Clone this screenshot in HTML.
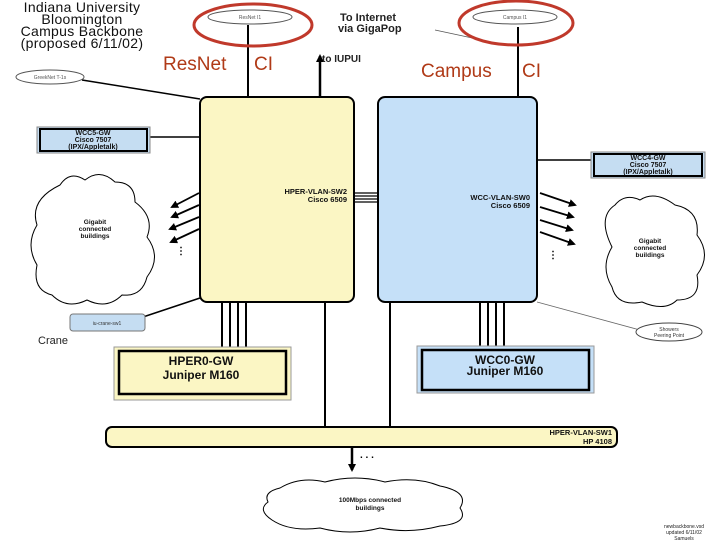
<!DOCTYPE html>
<html><head><style>
body{margin:0;background:#fff;}
svg{display:block;font-family:"Liberation Sans",Arial,sans-serif;}
</style></head><body>
<svg width="720" height="540" viewBox="0 0 720 540">
<defs><marker id="ah" markerWidth="8" markerHeight="8" refX="6" refY="4" orient="auto" markerUnits="userSpaceOnUse"><path d="M0,0 L8,4 L0,8z" fill="#000"/></marker></defs>
<g font-size="14" fill="#111" text-anchor="middle" letter-spacing="0.3">
<text x="82" y="12">Indiana University</text>
<text x="82" y="24">Bloomington</text>
<text x="82" y="36">Campus Backbone</text>
<text x="82" y="48">(proposed 6/11/02)</text>
</g>
<line x1="248" y1="25" x2="248" y2="97" stroke="#000" stroke-width="2"/>
<line x1="518" y1="27" x2="518" y2="97" stroke="#000" stroke-width="2"/>
<line x1="320" y1="97" x2="320" y2="56" stroke="#000" stroke-width="2.5" marker-end="url(#ah)"/>
<line x1="435" y1="30" x2="505" y2="45" stroke="#555" stroke-width="0.8"/>
<text x="340" y="21" font-size="11" font-weight="bold" fill="#222">To Internet</text>
<text x="338" y="32" font-size="11" font-weight="bold" fill="#222">via GigaPop</text>
<text x="322" y="62" font-size="10" font-weight="bold" fill="#222">to IUPUI</text>
<ellipse cx="250" cy="17" rx="42" ry="7" fill="#fff" stroke="#555"/>
<text x="250" y="19" font-size="5" text-anchor="middle" fill="#555">ResNet I1</text>
<ellipse cx="515" cy="17" rx="42" ry="7" fill="#fff" stroke="#555"/>
<text x="515" y="19" font-size="5" text-anchor="middle" fill="#555">Campus I1</text>
<ellipse cx="253" cy="25" rx="59" ry="21" fill="none" stroke="#c0392b" stroke-width="3"/>
<ellipse cx="516" cy="23" rx="57" ry="22" fill="none" stroke="#c0392b" stroke-width="3"/>
<g font-size="19" fill="#b03a17">
<text x="163" y="70">ResNet</text><text x="254" y="70">CI</text>
<text x="421" y="77">Campus</text><text x="522" y="77">CI</text></g>
<line x1="82" y1="80" x2="200" y2="99" stroke="#000" stroke-width="1.5"/>
<ellipse cx="50" cy="77" rx="34" ry="7" fill="#fff" stroke="#555"/>
<text x="50" y="79" font-size="5" text-anchor="middle" fill="#555">GreekNet T-1s</text>
<line x1="150" y1="137" x2="200" y2="137" stroke="#000" stroke-width="1.5"/>
<rect x="37" y="127" width="113" height="26" fill="#c5ddf2" stroke="#888"/>
<rect x="40" y="129" width="107" height="22" fill="#c5ddf2" stroke="#000" stroke-width="2"/>
<g font-size="7" font-weight="bold" text-anchor="middle" fill="#111"><text x="93" y="135">WCC5-GW</text><text x="93" y="142">Cisco 7507</text><text x="93" y="149">(IPX/Appletalk)</text></g>
<line x1="537" y1="160" x2="592" y2="160" stroke="#000" stroke-width="1.5"/>
<rect x="591" y="152" width="114" height="26" fill="#c5ddf2" stroke="#888"/>
<rect x="594" y="154" width="108" height="22" fill="#c5ddf2" stroke="#000" stroke-width="2"/>
<g font-size="7" font-weight="bold" text-anchor="middle" fill="#111"><text x="648" y="160">WCC4-GW</text><text x="648" y="167">Cisco 7507</text><text x="648" y="174">(IPX/Appletalk)</text></g>
<g stroke="#000" stroke-width="1.2"><line x1="354" y1="193" x2="378" y2="193"/><line x1="354" y1="196" x2="378" y2="196"/><line x1="354" y1="199" x2="378" y2="199"/><line x1="354" y1="202" x2="378" y2="202"/></g>
<rect x="200" y="97" width="154" height="205" rx="7" fill="#fbf6c4" stroke="#000" stroke-width="2"/>
<rect x="378" y="97" width="159" height="205" rx="7" fill="#c5e0f8" stroke="#000" stroke-width="2"/>
<g font-size="7.5" font-weight="bold" text-anchor="end" fill="#111">
<text x="347" y="194">HPER-VLAN-SW2</text><text x="347" y="202">Cisco 6509</text>
<text x="530" y="200">WCC-VLAN-SW0</text><text x="530" y="208">Cisco 6509</text></g>
<g stroke="#000" stroke-width="1.8" marker-end="url(#ah)">
<line x1="199" y1="193" x2="172" y2="207"/><line x1="199" y1="205" x2="172" y2="217"/><line x1="199" y1="217" x2="170" y2="229"/><line x1="199" y1="229" x2="171" y2="242"/>
<line x1="540" y1="193" x2="575" y2="205"/><line x1="540" y1="207" x2="573" y2="217"/><line x1="540" y1="220" x2="572" y2="230"/><line x1="540" y1="232" x2="574" y2="244"/></g>
<g font-size="10" font-weight="bold" text-anchor="middle"><text x="181" y="254">⋮</text><text x="553" y="258">⋮</text></g>
<path d="M60,185 q10,-15 25,-5 q15,-12 30,2 q20,0 20,20 q20,15 12,35 q15,20 0,40 q-5,20 -25,18 q-15,15 -35,5 q-20,10 -35,-5 q-20,-5 -15,-30 q-12,-20 0,-40 q-8,-25 23,-40z" fill="#fff" stroke="#000" stroke-width="1"/>
<g font-size="6.5" font-weight="bold" text-anchor="middle" fill="#111"><text x="95" y="224">Gigabit</text><text x="95" y="231">connected</text><text x="95" y="238">buildings</text></g>
<path d="M615,205 q10,-12 25,-5 q15,-10 35,5 q25,5 22,30 q15,20 0,40 q5,25 -20,25 q-12,12 -35,2 q-25,5 -30,-15 q-12,-20 0,-40 q-15,-30 3,-42z" fill="#fff" stroke="#000" stroke-width="1"/>
<g font-size="6.5" font-weight="bold" text-anchor="middle" fill="#111"><text x="650" y="243">Gigabit</text><text x="650" y="250">connected</text><text x="650" y="257">buildings</text></g>
<line x1="143" y1="317" x2="200" y2="298" stroke="#000" stroke-width="1.5"/>
<rect x="70" y="314" width="75" height="17" rx="3" fill="#c5ddf2" stroke="#777"/>
<text x="107" y="325" font-size="5" text-anchor="middle" fill="#333">iu-crane-sw1</text>
<text x="38" y="344" font-size="11" fill="#222">Crane</text>
<line x1="537" y1="302" x2="640" y2="330" stroke="#666" stroke-width="0.8"/>
<ellipse cx="669" cy="332" rx="33" ry="9" fill="#fff" stroke="#444"/>
<g font-size="5" text-anchor="middle" fill="#333"><text x="669" y="331">Showers</text><text x="669" y="337">Peering Point</text></g>
<g stroke="#000" stroke-width="2">
<line x1="222" y1="302" x2="222" y2="348"/><line x1="230" y1="302" x2="230" y2="348"/><line x1="238" y1="302" x2="238" y2="348"/><line x1="246" y1="302" x2="246" y2="348"/>
<line x1="480" y1="302" x2="480" y2="346"/><line x1="488" y1="302" x2="488" y2="346"/><line x1="496" y1="302" x2="496" y2="346"/><line x1="504" y1="302" x2="504" y2="346"/>
<line x1="325" y1="302" x2="325" y2="428"/><line x1="390" y1="302" x2="390" y2="428"/></g>
<rect x="114" y="347" width="177" height="53" fill="#fbf6c4" stroke="#999"/>
<rect x="119" y="351" width="167" height="43" fill="#fbf6c4" stroke="#000" stroke-width="2.5"/>
<g font-size="12" font-weight="bold" text-anchor="middle" fill="#111"><text x="201" y="365">HPER0-GW</text><text x="201" y="379">Juniper M160</text></g>
<rect x="417" y="346" width="177" height="47" fill="#c5e0f8" stroke="#999"/>
<rect x="422" y="350" width="167" height="40" fill="#c5e0f8" stroke="#000" stroke-width="2.5"/>
<g font-size="12" font-weight="bold" text-anchor="middle" fill="#111"><text x="505" y="364">WCC0-GW</text><text x="505" y="375">Juniper M160</text></g>
<rect x="106" y="427" width="511" height="20" rx="6" fill="#fbf6c4" stroke="#000" stroke-width="2"/>
<g font-size="7.5" font-weight="bold" text-anchor="end" fill="#111"><text x="612" y="435">HPER-VLAN-SW1</text><text x="612" y="444">HP 4108</text></g>
<line x1="352" y1="447" x2="352" y2="470" stroke="#000" stroke-width="2.5" marker-end="url(#ah)"/>
<text x="360" y="458" font-size="10" font-weight="bold">. . .</text>
<path d="M280,488 q20,-12 45,-6 q30,-8 60,0 q30,-6 55,4 q30,6 20,22 q10,15 -20,18 q-30,8 -60,2 q-30,8 -60,0 q-30,4 -48,-8 q-15,-10 -4,-18 q-5,-10 12,-14z" fill="#fff" stroke="#000" stroke-width="1"/>
<g font-size="6.5" font-weight="bold" text-anchor="middle" fill="#111"><text x="370" y="502">100Mbps connected</text><text x="370" y="510">buildings</text></g>
<g font-size="5" text-anchor="middle" fill="#222"><text x="684" y="528">newbackbone.vsd</text><text x="684" y="534">updated 6/11/02</text><text x="684" y="540">Samuels</text></g>
</svg>
</body></html>
